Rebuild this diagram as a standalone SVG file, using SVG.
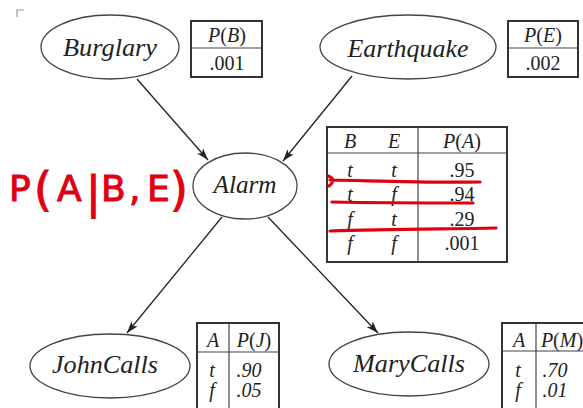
<svg xmlns="http://www.w3.org/2000/svg" width="583" height="408" viewBox="0 0 583 408">
<style>
.node ellipse{fill:#fff;stroke:#444;stroke-width:1.3}
.lbl{font-family:"Liberation Serif",serif;font-style:italic;font-size:26px;fill:#222;text-anchor:middle}
.tb{fill:#fff;stroke:#333;stroke-width:2}
.ln{stroke:#444;stroke-width:1.2}
.tt{font-family:"Liberation Serif",serif;font-size:20px;fill:#222;text-anchor:middle}
.it{font-style:italic}
.edge{stroke:#222;stroke-width:1.3;fill:none;marker-end:url(#ah)}
.red{stroke:#e00010;stroke-width:3.2;fill:none;stroke-linecap:round}
</style>
<defs>
<marker id="ah" viewBox="0 0 12 8" refX="12" refY="4" markerWidth="12" markerHeight="8" markerUnits="userSpaceOnUse" orient="auto">
<path d="M0,0 L12,4 L0,8 L3,4 Z" fill="#222"/>
</marker>
</defs>
<rect width="583" height="408" fill="#fff"/>
<path d="M17,17 V10 H24" stroke="#999" stroke-width="1.2" fill="none"/>

<g id="connectors">
<line class="edge" x1="137" y1="79" x2="208" y2="160"/>
<line class="edge" x1="352" y1="76" x2="283" y2="161"/>
<line class="edge" x1="222" y1="217" x2="127" y2="333"/>
<line class="edge" x1="268" y1="217" x2="378" y2="333"/>
</g>

<g id="burglary" class="node">
<ellipse cx="110" cy="47" rx="69" ry="32"/>
<text class="lbl" x="110" y="56" textLength="94" lengthAdjust="spacingAndGlyphs">Burglary</text>
</g>
<g id="cpt-b">
<rect class="tb" x="191" y="21" width="71" height="56"/>
<line class="ln" x1="191" y1="48" x2="262" y2="48"/>
<text class="tt" x="227" y="42"><tspan class="it">P</tspan>(<tspan class="it">B</tspan>)</text>
<text class="tt" x="227" y="70">.001</text>
</g>

<g id="earthquake" class="node">
<ellipse cx="408" cy="47" rx="88" ry="32"/>
<text class="lbl" x="408" y="57" textLength="121" lengthAdjust="spacingAndGlyphs">Earthquake</text>
</g>
<g id="cpt-e">
<rect class="tb" x="508" y="21" width="70" height="56"/>
<line class="ln" x1="508" y1="48" x2="578" y2="48"/>
<text class="tt" x="543" y="42"><tspan class="it">P</tspan>(<tspan class="it">E</tspan>)</text>
<text class="tt" x="543" y="70">.002</text>
</g>

<g id="alarm" class="node">
<ellipse cx="245" cy="186" rx="52" ry="33"/>
<text class="lbl" x="245" y="193" textLength="63" lengthAdjust="spacingAndGlyphs">Alarm</text>
</g>
<g id="cpt-a">
<rect class="tb" x="327" y="127" width="180" height="135"/>
<line class="ln" x1="327" y1="153" x2="507" y2="153"/>
<line class="ln" x1="418" y1="127" x2="418" y2="262"/>
<text class="tt it" x="350" y="148">B</text>
<text class="tt it" x="394" y="148">E</text>
<text class="tt" x="462" y="148"><tspan class="it">P</tspan>(<tspan class="it">A</tspan>)</text>
<text class="tt it" x="350" y="177">t</text><text class="tt it" x="394" y="177">t</text><text class="tt" x="462" y="177">.95</text>
<text class="tt it" x="350" y="201">t</text><text class="tt it" x="394" y="201">f</text><text class="tt" x="462" y="201">.94</text>
<text class="tt it" x="350" y="226">f</text><text class="tt it" x="394" y="226">t</text><text class="tt" x="462" y="226">.29</text>
<text class="tt it" x="350" y="250">f</text><text class="tt it" x="394" y="250">f</text><text class="tt" x="462" y="250">.001</text>
</g>

<g id="johncalls" class="node">
<ellipse cx="110" cy="366" rx="80" ry="32"/>
<text class="lbl" x="105" y="373" textLength="106" lengthAdjust="spacingAndGlyphs">JohnCalls</text>
</g>
<g id="cpt-j">
<path class="tb" d="M197,408 V323 H279 V408"/>
<line class="ln" x1="197" y1="352" x2="279" y2="352"/>
<line class="ln" x1="229" y1="323" x2="229" y2="408"/>
<text class="tt it" x="213" y="347">A</text>
<text class="tt" x="254" y="347"><tspan class="it">P</tspan>(<tspan class="it">J</tspan>)</text>
<text class="tt it" x="212" y="377">t</text><text class="tt it" x="249" y="377">.90</text>
<text class="tt it" x="212" y="397">f</text><text class="tt it" x="249" y="397">.05</text>
</g>

<g id="marycalls" class="node">
<ellipse cx="409" cy="364" rx="80" ry="32"/>
<text class="lbl" x="409" y="372" textLength="112" lengthAdjust="spacingAndGlyphs">MaryCalls</text>
</g>
<g id="cpt-m">
<path class="tb" d="M502,408 V323 H590"/>
<line class="ln" x1="502" y1="351" x2="583" y2="351"/>
<line class="ln" x1="536" y1="323" x2="536" y2="408"/>
<text class="tt it" x="519" y="347">A</text>
<text class="tt" x="562" y="347"><tspan class="it">P</tspan>(<tspan class="it">M</tspan>)</text>
<text class="tt it" x="518" y="377">t</text><text class="tt it" x="555" y="377">.70</text>
<text class="tt it" x="518" y="397">f</text><text class="tt it" x="555" y="397">.01</text>
</g>

<g id="annotation" font-family="'DejaVu Sans',sans-serif" font-size="36" fill="#e00010" stroke="#e00010" stroke-width="1">
<text y="201"><tspan x="9">P</tspan><tspan x="34" y="205" font-size="46">(</tspan><tspan x="57" y="201">A</tspan><tspan x="86" y="208" font-size="44">|</tspan><tspan x="101" y="201">B</tspan><tspan x="129">,</tspan><tspan x="147">E</tspan><tspan x="170" y="205" font-size="46">)</tspan></text>
<path class="red" d="M328,176 Q337,179 329,186 M330,180 C380,181 430,183 480,182"/>
<path class="red" d="M332,202 C380,203 430,203 473,203"/>
<path class="red" d="M330,231 C390,229 450,229 496,228"/>
</g>
</svg>
